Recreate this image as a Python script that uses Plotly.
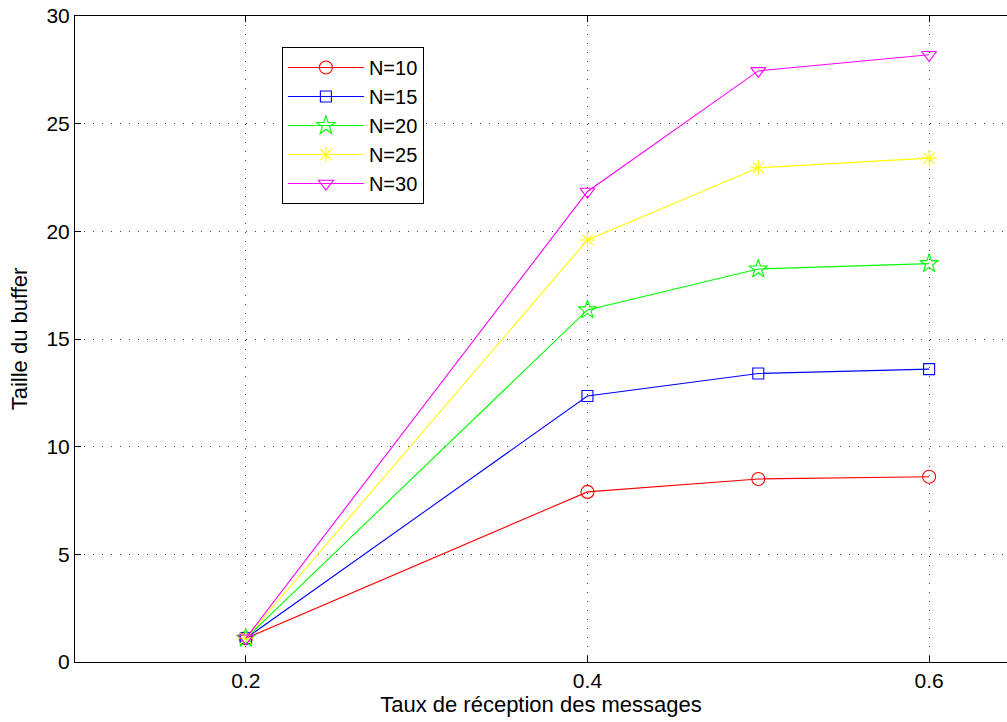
import plotly.graph_objects as go

# Reception rate (x) and buffer size for each network size N
taux = [0.2, 0.4, 0.5, 0.6]
buffer_n10 = [1.1, 7.9, 8.5, 8.6]
buffer_n15 = [1.1, 12.35, 13.4, 13.6]
buffer_n20 = [1.1, 16.35, 18.25, 18.5]
buffer_n25 = [1.1, 19.6, 22.95, 23.4]
buffer_n30 = [1.1, 21.85, 27.45, 28.2]

series = [
    ("N=10", buffer_n10, "#ff0000", "circle-open", 13),
    ("N=15", buffer_n15, "#0000ff", "square-open", 11),
    ("N=20", buffer_n20, "#00ff00", "star-open", 14),
    ("N=25", buffer_n25, "#ffff00", "asterisk-open", 13),
    ("N=30", buffer_n30, "#ff00ff", "triangle-down-open", 13),
]

x_ticks = [0.2, 0.4, 0.6]
y_ticks = [0, 5, 10, 15, 20, 25, 30]

fig = go.Figure()
for name, vals, color, symbol, msize in series:
    fig.add_trace(go.Scatter(
        x=taux, y=vals, name=name, mode="lines+markers",
        line=dict(color=color, width=1.1),
        marker=dict(symbol=symbol, size=msize, color=color,
                    line=dict(color=color, width=1.1)),
    ))

family = "Liberation Sans, Arial, sans-serif"
tick_font = dict(family=family, size=21, color="black")
title_font = dict(family=family, size=22, color="black")

fig.update_layout(
    width=1007, height=722,
    margin=dict(l=75, r=0, t=16, b=60),
    paper_bgcolor="white", plot_bgcolor="white",
    font=tick_font,
    showlegend=True,
    legend=dict(
        x=0.222, y=0.952, xanchor="left", yanchor="top",
        bgcolor="white", bordercolor="black", borderwidth=1,
        font=dict(family=family, size=20, color="black"),
        itemwidth=76, tracegroupgap=0,
    ),
    xaxis=dict(
        range=[0.1, 0.6456], tickvals=x_ticks, ticktext=["0.2", "0.4", "0.6"],
        ticks="inside", ticklen=6, tickcolor="black",
        showline=True, linecolor="black", linewidth=1, mirror="ticks",
        showgrid=True, gridcolor="#444444", griddash="1px,8px", gridwidth=1,
        zeroline=False,
        title=dict(text="Taux de réception des messages", standoff=2, font=title_font),
        tickfont=tick_font,
    ),
    yaxis=dict(
        range=[0, 30], tickvals=y_ticks,
        ticks="inside", ticklen=6, tickcolor="black",
        showline=True, linecolor="black", linewidth=1, mirror=False,
        showgrid=True, gridcolor="#444444", griddash="1px,8px", gridwidth=1,
        zeroline=False,
        title=dict(text="Taille du buffer", standoff=12, font=title_font),
        tickfont=tick_font,
    ),
)

fig.write_html("out.html")
